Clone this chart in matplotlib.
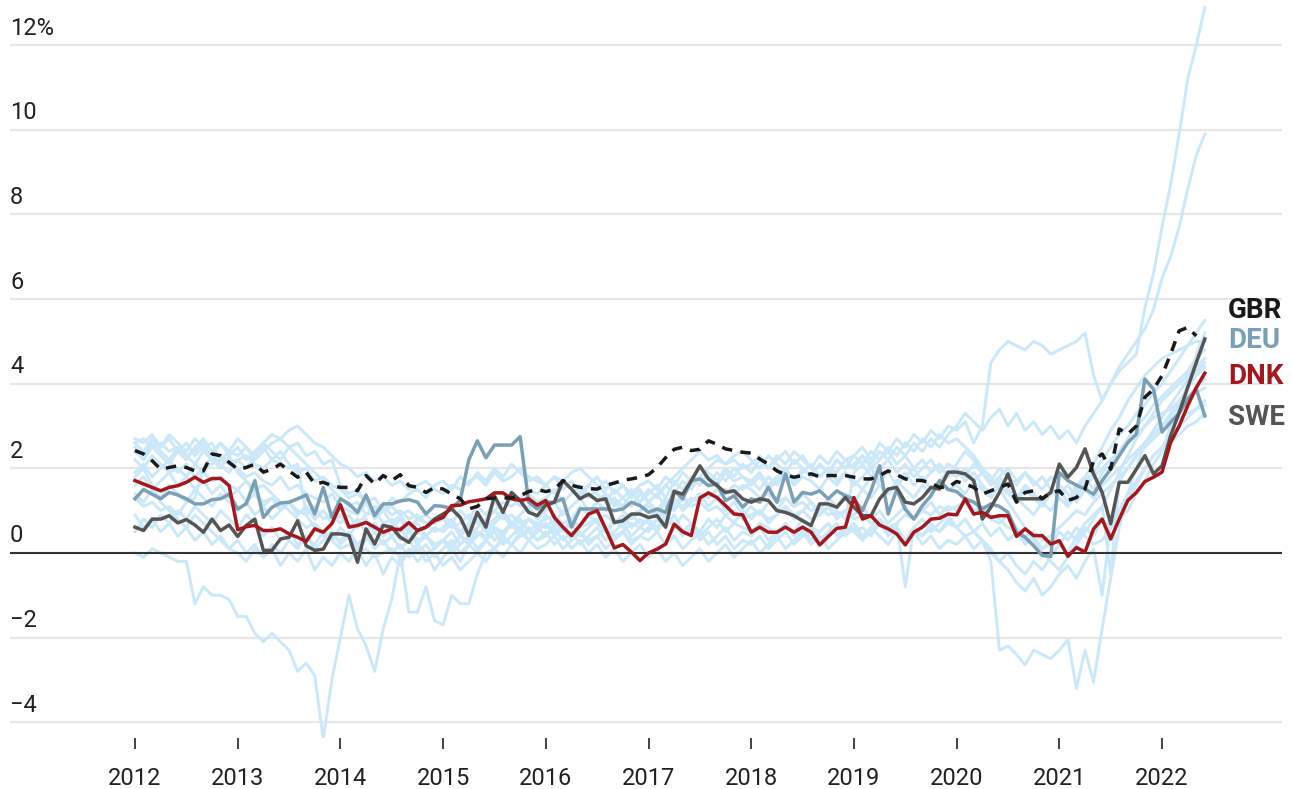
import numpy as np
import matplotlib.pyplot as plt

plt.rcParams['font.family'] = ['Roboto', 'DejaVu Sans']

# monthly values, Jan 2012 onwards (one row per year)
gbr = [2.42, 2.34, 2.18, 1.98, 2.02, 2.06, 2.02, 1.94, 1.94, 2.34, 2.30, 2.14,
       1.98, 2.02, 2.10, 1.91, 1.98, 2.10, 1.94, 1.79, 1.91, 1.63, 1.67, 1.59,
       1.55, 1.55, 1.47, 1.83, 1.63, 1.83, 1.71, 1.85, 1.59, 1.55, 1.43, 1.55,
       1.51, 1.39, 1.28, 1.04, 1.10, 1.28, 1.30, 1.30, 1.30, 1.35, 1.45, 1.50,
       1.45, 1.50, 1.71, 1.60, 1.55, 1.52, 1.51, 1.60, 1.65, 1.72, 1.75, 1.79,
       1.85, 2.02, 2.25, 2.45, 2.50, 2.42, 2.45, 2.65, 2.57, 2.46, 2.42, 2.38,
       2.36, 2.22, 2.10, 1.94, 1.85, 1.79, 1.83, 1.87, 1.80, 1.83, 1.83, 1.83,
       1.79, 1.75, 1.75, 1.83, 1.94, 1.85, 1.75, 1.72, 1.71, 1.65, 1.55, 1.55,
       1.69, 1.63, 1.55, 1.39, 1.47, 1.55, 1.63, 1.20, 1.43, 1.47, 1.28, 1.43,
       1.47, 1.24, 1.31, 1.51, 2.18, 2.34, 1.98, 2.93, 2.81, 3.00, 3.68, 3.87,
       4.19, 4.70, 5.25, 5.33, 5.13]

deu = [1.28, 1.50, 1.39, 1.28, 1.43, 1.37, 1.28, 1.16, 1.16, 1.26, 1.28, 1.39,
       1.04, 1.16, 1.71, 0.84, 1.08, 1.18, 1.20, 1.28, 1.37, 0.92, 1.55, 0.84,
       1.28, 1.16, 0.96, 1.37, 0.88, 1.16, 1.16, 1.23, 1.26, 1.20, 0.92, 1.12,
       1.10, 1.05, 1.25, 2.20, 2.65, 2.25, 2.55, 2.55, 2.55, 2.75, 1.20, 1.04,
       1.20, 1.20, 1.28, 0.61, 1.04, 1.04, 1.04, 1.04, 1.00, 1.04, 1.20, 1.12,
       0.96, 1.04, 0.96, 1.47, 1.28, 1.71, 1.75, 1.59, 1.63, 1.24, 1.35, 1.08,
       1.28, 1.20, 1.55, 1.20, 1.87, 1.20, 1.43, 1.39, 1.47, 1.28, 1.47, 1.35,
       1.28, 1.00, 1.47, 2.06, 0.92, 1.50, 1.03, 0.80, 1.12, 1.35, 1.71, 1.50,
       1.45, 1.28, 1.20, 1.04, 1.16, 1.10, 0.96, 0.49, 0.37, 0.17, -0.06, -0.08,
       1.90, 1.71, 1.60, 1.51, 1.39, 1.71, 1.98, 2.30, 2.61, 2.81, 4.11, 3.87,
       2.86, 3.09, 3.30, 3.64, 3.87, 3.24]

dnk = [1.71, 1.63, 1.55, 1.47, 1.55, 1.59, 1.67, 1.79, 1.67, 1.76, 1.76, 1.59,
       0.55, 0.62, 0.65, 0.53, 0.53, 0.57, 0.45, 0.37, 0.27, 0.57, 0.49, 0.69,
       1.14, 0.61, 0.65, 0.72, 0.61, 0.49, 0.57, 0.55, 0.72, 0.53, 0.61, 0.76,
       0.84, 1.12, 1.13, 1.21, 1.24, 1.28, 1.42, 1.42, 1.28, 1.24, 1.28, 1.13,
       1.24, 0.84, 0.61, 0.41, 0.65, 0.92, 1.00, 0.57, 0.12, 0.20, 0.02, -0.18,
       0.00, 0.09, 0.21, 0.68, 0.50, 0.41, 1.30, 1.42, 1.31, 1.12, 0.92, 0.90,
       0.49, 0.61, 0.49, 0.49, 0.61, 0.49, 0.61, 0.49, 0.19, 0.39, 0.58, 0.61,
       1.31, 0.80, 0.88, 0.66, 0.57, 0.45, 0.19, 0.49, 0.61, 0.80, 0.82, 0.92,
       0.90, 1.28, 0.92, 0.96, 0.84, 0.88, 0.88, 0.39, 0.57, 0.41, 0.41, 0.21,
       0.29, -0.08, 0.13, 0.02, 0.57, 0.80, 0.33, 0.80, 1.24, 1.43, 1.69, 1.79,
       1.91, 2.61, 3.00, 3.48, 3.91, 4.25]

swe = [0.61, 0.53, 0.80, 0.80, 0.88, 0.71, 0.79, 0.66, 0.49, 0.80, 0.53, 0.66,
       0.39, 0.65, 0.80, 0.06, 0.06, 0.33, 0.37, 0.76, 0.17, 0.06, 0.09, 0.45,
       0.45, 0.41, -0.22, 0.57, 0.21, 0.65, 0.61, 0.37, 0.25, 0.53, 0.61, 0.80,
       0.92, 1.04, 0.84, 0.41, 0.96, 0.61, 1.35, 0.96, 1.43, 1.24, 0.96, 0.88,
       1.13, 1.20, 1.71, 1.51, 1.28, 1.39, 1.24, 1.28, 0.72, 0.76, 0.92, 0.92,
       0.84, 0.88, 0.61, 1.45, 1.39, 1.71, 2.06, 1.75, 1.59, 1.43, 1.47, 1.28,
       1.20, 1.28, 1.24, 1.00, 0.96, 0.88, 0.76, 0.65, 1.16, 1.16, 1.08, 1.31,
       1.08, 0.88, 0.88, 1.28, 1.51, 1.55, 1.20, 1.16, 1.31, 1.55, 1.51, 1.91,
       1.91, 1.87, 1.71, 0.80, 1.08, 1.43, 1.87, 1.28, 1.28, 1.28, 1.28, 1.43,
       2.10, 1.79, 2.02, 2.46, 1.87, 1.43, 0.69, 1.67, 1.67, 1.98, 2.30, 1.87,
       2.06, 2.77, 3.32, 3.91, 4.50, 5.06]

# the other countries, drawn in light blue
other_a = [0.0, -0.1, 0.1, 0.0, -0.1, -0.2, -0.2, -1.2, -0.8, -1.0, -1.0, -1.1,
           -1.5, -1.5, -1.9, -2.1, -1.9, -2.1, -2.3, -2.8, -2.6, -2.9, -4.4, -3.0,
           -2.0, -1.0, -1.8, -2.2, -2.8, -1.8, -1.1, 0.0, -1.4, -1.4, -0.8, -1.6,
           -1.7, -1.0, -1.2, -1.2, -0.5, 0.0, 0.1, 0.3, 0.2, 0.4, 0.5, 0.3,
           0.4, 0.6, 0.3, 0.5, 0.2, 0.4, 0.6, 0.3, 0.5, 0.7, 0.4, 0.6,
           0.5, 0.8, 0.6, 0.9, 0.5, 0.7, 0.4, 0.6, 0.8, 0.5, 0.7, 0.6,
           0.5, 0.7, 0.6, 0.4, 0.7, 0.5, 0.8, 0.6, 0.5, 0.7, 0.4, 0.6,
           0.5, 0.6, 0.4, 0.7, 0.5, 0.6, 0.3, 0.5, 0.4, 0.6, 0.5, 0.7,
           0.6, 0.4, 0.5, 0.3, -0.2, -2.3, -2.2, -2.4, -2.65, -2.3, -2.4, -2.5,
           -2.3, -2.05, -3.2, -2.3, -3.05, -1.8, -0.6, 0.6, 1.4, 2.0, 2.6, 2.9,
           3.2, 3.5, 3.8, 4.1, 4.3, 4.5]

other_b = [2.6, 2.7, 2.5, 2.6, 2.4, 2.5, 2.3, 2.4, 2.6, 2.2, 2.3, 2.1,
           2.0, 1.8, 1.9, 1.7, 1.6, 1.8, 1.5, 1.6, 1.4, 1.3, 1.2, 1.4,
           1.1, 1.0, 0.9, 1.2, 0.8, 1.0, 0.7, 0.9, 0.6, 0.8, 0.7, 0.5,
           0.6, 0.8, 0.5, 0.7, 0.9, 0.6, 0.8, 1.0, 0.7, 0.9, 1.1, 0.8,
           1.0, 1.2, 0.9, 1.1, 1.3, 1.0, 1.2, 1.4, 1.1, 1.3, 1.5, 1.2,
           1.4, 1.6, 1.3, 1.7, 1.5, 1.8, 1.6, 1.9, 1.7, 2.0, 1.8, 2.1,
           1.9, 2.2, 2.0, 2.3, 2.1, 2.4, 2.2, 2.0, 2.3, 2.1, 2.4, 2.2,
           2.3, 2.5, 2.2, 2.6, 2.4, 2.7, 2.5, 2.8, 2.6, 2.9, 2.7, 3.0,
           2.9, 3.1, 2.6, 3.0, 4.5, 4.8, 5.0, 4.9, 4.8, 5.0, 4.9, 4.7,
           4.8, 4.9, 5.0, 5.2, 4.2, 3.6, 4.0, 4.3, 4.5, 4.7, 5.8, 6.6,
           7.7, 8.7, 9.9, 11.2, 12.0, 12.9]

other_c = [2.2, 2.0, 2.3, 2.1, 1.9, 2.0, 1.8, 2.1, 1.9, 1.7, 1.8, 1.6,
           1.5, 1.7, 1.4, 1.2, 1.3, 1.1, 1.2, 1.0, 0.9, 1.1, 0.8, 0.9,
           0.7, 0.9, 0.6, 0.8, 0.5, 0.7, 0.4, 0.6, 0.3, 0.5, 0.4, 0.2,
           0.3, 0.1, 0.4, 0.2, 0.5, 0.3, 0.6, 0.4, 0.7, 0.5, 0.8, 0.6,
           0.9, 0.7, 1.0, 0.8, 1.1, 0.9, 1.2, 1.0, 1.3, 1.1, 1.4, 1.2,
           1.5, 1.3, 1.6, 1.4, 1.7, 1.5, 1.8, 1.6, 1.9, 1.7, 2.0, 1.8,
           1.7, 1.9, 1.6, 1.8, 2.0, 1.7, 1.9, 2.1, 1.8, 2.0, 1.9, 2.2,
           2.0, 2.3, 2.1, 2.4, 2.2, 2.5, 2.3, 2.6, 2.4, 2.7, 2.5, 2.8,
           3.0, 3.3, 3.1, 2.9, 3.2, 3.4, 3.0, 3.3, 2.9, 3.1, 2.8, 3.0,
           2.7, 2.9, 2.6, 3.0, 3.3, 3.6, 4.0, 4.4, 4.7, 5.0, 5.3, 5.75,
           6.5, 7.0, 7.7, 8.6, 9.4, 9.9]

other_d = [2.7, 2.6, 2.8, 2.5, 2.7, 2.4, 2.6, 2.3, 2.5, 2.6, 2.2, 2.4,
           2.3, 2.5, 2.2, 2.4, 2.6, 2.7, 2.9, 3.0, 2.8, 2.6, 2.5, 2.3,
           2.1, 2.0, 1.8, 1.9, 1.7, 1.8, 1.6, 1.7, 1.5, 1.6, 1.7, 1.5,
           1.4, 1.6, 1.5, 1.7, 1.8, 1.6, 1.9, 1.7, 1.8, 2.0, 1.8, 1.7,
           1.6, 1.8, 1.5, 1.7, 1.4, 1.6, 1.8, 1.5, 1.7, 1.6, 1.4, 1.6,
           1.7, 1.5, 1.8, 1.6, 1.9, 1.7, 2.0, 1.8, 1.6, 1.9, 1.7, 1.8,
           1.6, 1.8, 1.5, 1.7, 1.9, 1.6, 1.8, 1.7, 1.5, 1.8, 1.6, 1.9,
           1.7, 1.5, 1.8, 1.6, 1.4, 1.7, 1.9, 1.6, 1.8, 1.5, 1.7, 1.9,
           1.8, 2.0, 1.7, 1.9, 1.6, 1.8, 2.0, 1.7, 1.9, 1.6, 1.8, 1.5,
           1.4, 1.6, 1.3, 1.7, 1.9, 2.2, 2.5, 2.8, 3.0, 3.3, 3.5, 3.8,
           4.0, 4.3, 4.6, 4.9, 5.2, 5.5]

other_e = [1.4, 1.2, 1.5, 1.3, 1.6, 1.4, 1.2, 1.5, 1.3, 1.1, 1.4, 1.2,
           1.0, 1.2, 0.9, 1.1, 0.8, 1.0, 1.2, 0.9, 1.1, 0.8, 1.0, 0.7,
           0.9, 0.6, 0.8, 0.5, 0.7, 0.4, 0.6, 0.8, 0.5, 0.7, 0.4, 0.6,
           0.5, 0.7, 0.4, 0.6, 0.8, 0.5, 0.7, 0.9, 0.6, 0.8, 0.5, 0.7,
           0.6, 0.8, 0.5, 0.7, 0.4, 0.6, 0.8, 0.5, 0.7, 0.9, 0.6, 0.8,
           0.7, 0.5, 0.8, 0.6, 0.9, 0.7, 0.5, 0.8, 0.6, 0.9, 0.7, 1.0,
           0.8, 1.0, 0.7, 0.9, 1.1, 0.8, 1.0, 1.2, 0.9, 1.1, 0.8, 1.0,
           0.9, 1.1, 0.8, 1.0, 0.7, 0.9, 1.1, 0.8, 1.0, 1.2, 0.9, 1.1,
           1.0, 1.2, 0.9, 1.1, 0.8, 0.7, 0.9, 0.6, 0.4, 0.5, 0.3, 0.4,
           0.6, 0.8, 1.0, 0.9, 1.2, 1.4, 1.6, 1.8, 2.0, 2.3, 2.6, 2.8,
           3.0, 3.3, 3.6, 3.9, 4.2, 4.4]

other_f = [0.9, 0.6, 0.8, 0.5, 0.7, 0.4, 0.6, 0.3, 0.5, 0.2, 0.4, 0.1,
           0.3, 0.0, 0.2, -0.1, 0.1, -0.3, 0.0, -0.2, 0.1, -0.4, -0.1, -0.3,
           0.0, -0.2, 0.1, -0.3, 0.0, -0.5, -0.1, -0.3, 0.1, -0.2, 0.0, -0.4,
           -0.1, 0.1, -0.2, 0.2, 0.0, 0.3, 0.1, 0.4, 0.2, 0.5, 0.3, 0.6,
           0.4, 0.7, 0.5, 0.8, 0.6, 0.9, 0.7, 0.5, 0.8, 0.6, 0.9, 0.7,
           0.8, 0.6, 0.9, 0.7, 0.4, 0.6, 0.3, 0.5, 0.2, 0.4, 0.1, 0.3,
           0.2, 0.4, 0.1, 0.3, 0.5, 0.2, 0.4, 0.6, 0.3, 0.5, 0.7, 0.4,
           0.6, 0.3, 0.5, 0.7, 0.4, 0.6, 0.3, 0.5, 0.2, 0.4, 0.1, 0.3,
           0.2, 0.4, 0.1, 0.3, 0.0, -0.2, -0.4, -0.7, -0.9, -0.6, -1.0, -0.8,
           -0.5, -0.3, -0.6, -0.2, 0.1, -1.0, 0.7, 1.0, 1.4, 1.7, 2.0, 2.3,
           2.5, 2.8, 3.0, 3.2, 3.4, 3.6]

other_g = [1.9, 2.1, 1.8, 2.0, 2.2, 1.9, 2.1, 1.8, 2.0, 2.3, 2.1, 1.9,
           2.2, 2.0, 2.3, 2.5, 2.2, 2.4, 2.1, 1.9, 2.0, 1.7, 1.8, 1.6,
           1.5, 1.3, 1.4, 1.2, 1.0, 1.1, 0.9, 1.0, 0.8, 0.9, 0.7, 0.8,
           0.9, 0.7, 1.0, 0.8, 1.1, 0.9, 1.2, 1.0, 1.3, 1.1, 1.4, 1.2,
           1.3, 1.5, 1.2, 1.4, 1.6, 1.3, 1.5, 1.7, 1.4, 1.6, 1.3, 1.5,
           1.2, 1.4, 1.1, 1.3, 1.0, 1.2, 1.4, 1.1, 1.3, 1.0, 1.2, 0.9,
           1.1, 0.9, 1.2, 1.0, 1.3, 1.1, 1.4, 1.2, 1.0, 1.3, 1.1, 1.4,
           1.2, 1.5, 1.3, 1.6, 1.4, 1.7, 1.5, 1.3, 1.6, 1.4, 1.7, 1.5,
           1.6, 1.4, 1.7, 1.5, 1.3, 1.6, 1.4, 1.2, 1.5, 1.3, 1.1, 1.4,
           1.5, 1.2, 1.6, 1.8, 1.5, 1.9, 2.1, 2.4, 2.7, 3.0, 3.2, 3.5,
           3.7, 3.9, 4.1, 4.3, 4.6, 4.8]

other_h = [1.6, 1.8, 1.5, 1.7, 1.9, 1.6, 1.8, 1.5, 1.7, 1.4, 1.6, 1.3,
           1.5, 1.2, 1.4, 1.1, 1.3, 1.0, 1.2, 0.9, 1.1, 0.8, 1.0, 0.7,
           0.9, 0.6, 0.8, 0.5, 0.7, 0.4, 0.6, 0.3, 0.5, 0.2, 0.4, 0.1,
           0.3, 0.0, 0.2, 0.4, 0.1, 0.3, 0.5, 0.2, 0.4, 0.6, 0.3, 0.5,
           0.7, 0.4, 0.6, 0.3, 0.5, 0.2, 0.4, 0.6, 0.3, 0.5, 0.2, 0.4,
           0.3, 0.5, 0.2, 0.4, 0.1, 0.3, 0.5, 0.2, 0.4, 0.6, 0.3, 0.5,
           0.4, 0.6, 0.3, 0.5, 0.7, 0.4, 0.6, 0.3, 0.5, 0.7, 0.4, 0.6,
           0.5, 0.3, 0.6, 0.4, 0.2, 0.5, 0.3, 0.6, 0.4, 0.7, 0.5, 0.8,
           0.6, 0.8, 0.5, 0.7, 0.4, 0.6, 0.3, 0.5, 0.2, 0.4, 0.1, 0.3,
           0.2, 0.5, 0.3, 0.6, 0.4, 0.8, 0.6, 1.0, 1.3, 1.6, 2.0, 2.3,
           2.5, 2.6, 2.8, 3.0, 3.1, 3.3]

other_i = [1.3, 1.1, 1.2, 1.0, 1.1, 0.9, 1.2, 1.3, 2.0, 2.1, 2.2, 2.1,
           2.2, 2.3, 2.1, 2.0, 2.2, 2.1, 2.0, 2.1, 0.9, 0.6, 0.4, 0.3,
           0.1, 0.2, 0.0, 0.1, -0.1, 0.0, 0.1, -0.1, 0.0, 0.2, 0.0, 0.1,
           0.3, 0.2, 0.4, 0.3, 0.5, 0.4, 0.6, 0.5, 0.7, 0.6, 0.8, 0.7,
           0.8, 0.9, 0.7, 0.8, 0.6, 0.7, 0.8, 0.9, 0.7, 0.8, 0.9, 1.0,
           1.1, 0.9, 1.2, 1.0, 1.3, 1.1, 1.2, 1.0, 1.1, 0.9, 1.0, 0.8,
           0.9, 1.0, 0.8, 0.9, 1.1, 0.9, 1.0, 0.8, 0.9, 1.1, 0.9, 1.0,
           0.8, 0.9, 0.7, 0.8, 0.6, 0.7, 0.9, 0.8, 1.0, 0.9, 1.1, 1.0,
           1.1, 1.2, 1.0, 1.1, 0.9, 0.8, 0.6, 0.5, 0.3, 0.2, 0.1, 0.2,
           0.5, 0.3, 0.6, 0.4, 0.2, 0.3, 0.6, 0.8, 1.0, 1.4, 1.7, 2.1,
           2.4, 3.0, 3.4, 4.0, 4.7, 5.2]

other_j = [2.4, 2.2, 2.5, 2.3, 2.1, 2.4, 2.2, 2.5, 2.7, 2.4, 2.6, 2.3,
           2.5, 2.2, 2.4, 2.6, 2.8, 2.7, 2.5, 2.6, 2.3, 2.4, 2.1, 2.2,
           1.6, 1.4, 1.5, 1.2, 1.3, 1.0, 1.1, 0.9, 1.0, 0.8, 0.9, 0.7,
           0.8, 0.6, 0.7, 0.9, 0.7, 0.8, 1.0, 0.8, 0.9, 0.7, 0.8, 0.6,
           0.7, 0.5, 0.6, 0.4, 0.5, 0.3, 0.4, 0.6, 0.4, 0.5, 0.3, 0.4,
           0.6, 0.8, 1.0, 1.2, 1.1, 1.3, 1.2, 1.4, 1.3, 1.5, 1.4, 1.6,
           1.5, 1.3, 1.4, 1.2, 1.3, 1.1, 1.2, 1.0, 1.1, 0.9, 1.0, 0.8,
           1.9, 2.1, 1.8, 2.0, 2.2, 1.9, 2.1, 1.8, 2.0, 2.2, 1.9, 2.1,
           2.0, 1.8, 2.1, 1.9, 1.7, 2.0, 1.8, 1.6, 1.9, 1.7, 1.5, 1.8,
           1.6, 1.4, 1.2, 1.5, 1.3, 1.6, 1.8, 2.0, 2.2, 2.4, 2.6, 2.8,
           3.0, 3.2, 3.5, 3.7, 3.9, 4.1]

other_k = [1.8, 2.0, 1.6, 1.2, 1.0, 0.8, 0.6, 0.9, 0.7, 0.5, 0.3, 0.1,
           0.0, -0.2, 0.1, -0.1, 0.2, 0.0, 0.3, 0.1, 0.4, 0.2, 0.5, 0.3,
           0.6, 0.4, 0.7, 0.9, 1.1, 1.0, 1.3, 1.2, 1.4, 1.5, 1.3, 1.6,
           1.7, 1.5, 1.8, 1.6, 1.9, 1.7, 2.0, 1.8, 2.1, 1.9, 1.7, 1.8,
           1.6, 1.4, 1.7, 1.5, 1.3, 1.6, 1.4, 1.2, 1.5, 1.3, 1.1, 1.4,
           1.2, 1.0, 1.3, 1.1, 1.4, 1.6, 1.8, 2.0, 2.2, 2.1, 2.3, 2.4,
           2.2, 2.0, 2.3, 2.1, 1.9, 2.2, 2.0, 1.8, 2.1, 1.9, 2.2, 2.0,
           2.3, 2.1, 2.4, 2.2, 2.5, 2.3, 2.6, 2.4, 2.7, 2.5, 2.8, 2.6,
           2.7, 2.5, 2.3, 2.0, 1.8, 1.5, 1.2, 0.9, 0.6, 0.3, 0.0, -0.2,
           -0.4, -0.1, 0.2, 0.5, 0.8, 1.1, 1.5, 1.9, 2.3, 2.7, 3.0, 3.3,
           3.6, 3.8, 4.0, 4.2, 4.4, 4.6]

other_l = [2.5, 2.3, 2.6, 2.4, 2.2, 2.5, 2.3, 2.1, 2.4, 2.2, 2.0, 2.3,
           1.9, 1.7, 1.5, 1.6, 1.4, 1.2, 1.0, 0.8, 0.6, 0.7, 0.5, 0.4,
           0.3, 0.5, 0.2, 0.4, 0.1, 0.3, 0.0, 0.2, -0.1, 0.1, -0.2, 0.0,
           -0.3, -0.1, -0.4, -0.2, 0.0, -0.2, 0.1, -0.1, 0.2, 0.0, 0.3, 0.1,
           0.2, 0.4, 0.1, 0.3, 0.5, 0.2, 0.4, 0.1, 0.3, 0.5, 0.7, 0.6,
           0.8, 1.0, 0.9, 1.1, 1.3, 1.2, 1.4, 1.3, 1.5, 1.4, 1.6, 1.5,
           1.7, 1.5, 1.8, 1.6, 1.9, 1.7, 2.0, 1.8, 2.1, 1.9, 2.2, 2.0,
           2.1, 2.3, 2.0, 2.2, 2.4, 2.1, 2.3, 2.0, 2.2, 1.9, 2.1, 1.8,
           2.0, 1.7, 1.9, 1.6, 1.4, 1.7, 1.5, 1.3, 1.6, 1.4, 1.2, 1.5,
           1.3, 1.1, 1.4, 1.6, 1.8, 2.0, 2.2, 2.4, 2.6, 2.8, 3.0, 3.2,
           3.3, 3.4, 3.6, 3.7, 3.8, 3.9]

other_m = [0.5, 0.8, 0.6, 0.9, 0.7, 1.0, 0.8, 1.1, 0.9, 0.7, 1.0, 0.8,
           0.6, 0.9, 0.7, 0.4, 0.6, 0.3, 0.5, 0.2, 0.4, 0.1, 0.3, 0.5,
           0.2, 0.4, 0.1, 0.3, 0.5, 0.2, 0.4, 0.1, 0.3, 0.0, 0.2, -0.1,
           0.1, 0.3, 0.0, 0.2, 0.4, 0.6, 0.3, 0.5, 0.7, 0.4, 0.6, 0.3,
           0.5, 0.2, 0.4, 0.1, 0.3, 0.0, 0.2, -0.1, 0.1, -0.2, 0.0, 0.2,
           -0.1, 0.1, -0.2, 0.0, -0.3, -0.1, 0.1, -0.2, 0.0, 0.2, -0.1, 0.1,
           0.3, 0.0, 0.2, 0.4, 0.1, 0.3, 0.5, 0.2, 0.4, 0.1, 0.3, 0.5,
           0.7, 0.4, 0.6, 0.8, 0.5, 0.7, -0.8, 0.6, 0.8, 0.5, 0.7, 0.9,
           0.6, 0.8, 0.5, 0.3, 0.1, -0.2, 0.0, -0.3, -0.5, -0.2, -0.4, -0.1,
           0.2, 0.0, 0.4, 0.7, 0.9, 1.1, -0.5, 1.7, 2.0, 2.3, 2.5, 2.7,
           2.9, 3.0, 3.2, 3.3, 3.4, 3.5]

other_n = [2.6, 2.4, 2.7, 2.5, 2.8, 2.6, 2.4, 2.7, 2.5, 2.3, 2.6, 2.4,
           2.7, 2.5, 2.3, 2.6, 2.4, 2.2, 2.5, 2.3, 2.1, 1.9, 1.7, 1.5,
           1.3, 1.1, 1.2, 0.9, 1.0, 0.7, 0.8, 0.5, 0.6, 0.3, 0.4, 0.2,
           0.3, 0.5, 0.2, 0.4, 0.6, 0.8, 1.0, 1.2, 1.1, 1.3, 1.5, 1.4,
           1.6, 1.8, 1.7, 1.9, 2.0, 1.8, 1.6, 1.4, 1.2, 1.0, 0.8, 1.0,
           1.2, 1.4, 1.6, 1.8, 2.0, 2.2, 2.4, 2.2, 2.3, 2.1, 2.2, 2.0,
           2.1, 2.3, 2.0, 2.2, 2.4, 2.1, 2.3, 2.0, 1.8, 2.0, 1.7, 1.9,
           1.6, 1.8, 2.0, 1.7, 1.9, 1.6, 1.8, 2.0, 1.7, 1.9, 2.1, 1.8,
           2.1, 2.4, 2.2, 1.9, 1.6, 1.8, 1.5, 1.3, 1.1, 0.9, 1.2, 1.0,
           1.3, 1.1, 1.5, 1.8, 2.1, 2.5, 2.9, 3.2, 3.6, 3.9, 4.2, 4.4,
           4.6, 4.7, 4.8, 4.9, 5.0, 5.0]

others = [other_a, other_b, other_c, other_d, other_e, other_f, other_g,
          other_h, other_i, other_j, other_k, other_l, other_m, other_n]

years = list(range(2012, 2023))
grid_vals = [-4, -2, 0, 2, 4, 6, 8, 10, 12]
grid_text = ['\u22124', '\u22122', '0', '2', '4', '6', '8', '10', '12%']

labels = ['GBR', 'DEU', 'DNK', 'SWE']
label_y = [5.74, 5.01, 4.18, 3.19]
label_col = ['#1a1a1a', '#7b9fb4', '#a3171d', '#555555']


def month_axis(vals):
    return 2012 + np.arange(len(vals)) / 12.0


fig = plt.figure(figsize=(12.92, 7.89), dpi=100)
ax = fig.add_axes([10 / 1292, 51 / 789, 1272 / 1292, 738 / 789])
ax.set_xlim(2010.783, 2023.168)
ax.set_ylim(-4.374, 13.07)

for s in ax.spines.values():
    s.set_visible(False)

ax.set_yticks(grid_vals)
ax.tick_params(axis='y', length=0, labelleft=False)
ax.yaxis.grid(True, color='#e6e6e6', lw=1.6, zorder=0)
ax.set_axisbelow(True)
ax.axhline(0, color='#333333', lw=1.5, zorder=2)

for t, v in zip(grid_text, grid_vals):
    ax.annotate(t, xy=(0, v), xycoords=ax.get_yaxis_transform(),
                xytext=(0, 4), textcoords='offset points',
                ha='left', va='bottom', fontsize=17, color='#222222')

ax.set_xticks(years)
ax.set_xticklabels([str(y) for y in years])
ax.tick_params(axis='x', length=8, width=1.2, color='#222222', pad=13,
               labelsize=17, labelcolor='#222222')

for o in others:
    ax.plot(month_axis(o), o, color='#cbe8f8', lw=2.1, zorder=1)

ax.plot(month_axis(deu), deu, color=label_col[1], lw=2.5, zorder=3)
ax.plot(month_axis(swe), swe, color=label_col[3], lw=2.5, zorder=4)
ax.plot(month_axis(dnk), dnk, color=label_col[2], lw=2.5, zorder=5)
ax.plot(month_axis(gbr), gbr, color=label_col[0], lw=2.5, zorder=6,
        dashes=(3, 2.4))

for lab, y, c in zip(labels, label_y, label_col):
    ax.text(2022.64, y, lab, color=c, fontsize=20, fontweight='bold',
            ha='left', va='center')

fig.savefig('out.png', dpi=100)
